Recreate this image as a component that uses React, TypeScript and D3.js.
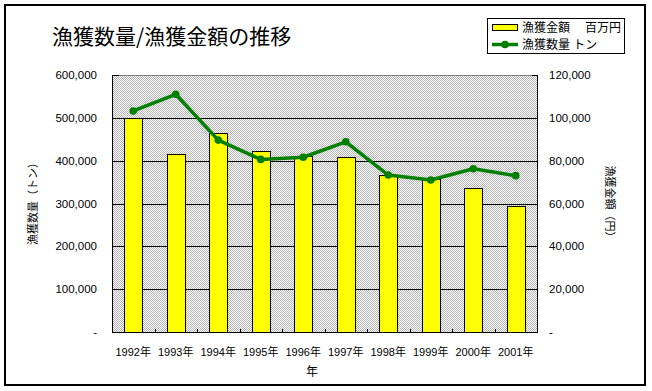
import * as d3 from 'd3';

const years = ['1992年', '1993年', '1994年', '1995年', '1996年', '1997年', '1998年', '1999年', '2000年', '2001年'];
// 漁獲金額 (百万円) — bars, right axis
const kingaku = [99800, 83000, 92800, 84400, 82400, 81600, 73200, 71300, 67100, 58700];
// 漁獲数量 (トン) — line, left axis
const suryo = [516000, 555000, 448000, 403000, 408000, 444000, 366500, 355000, 381000, 365000];
const leftTicks = [0, 100000, 200000, 300000, 400000, 500000, 600000];
const rightTicks = [0, 20000, 40000, 60000, 80000, 100000, 120000];

const W = 652;
const H = 391;
const plot = { left: 112, right: 537, top: 75, bottom: 332 };
const FONT = '"Liberation Sans", "Noto Sans CJK JP", sans-serif';
const GREEN = '#008000';

const fmt = (v: number) => (v === 0 ? '-' : d3.format(',')(v));

export default function App() {
  const x = d3.scaleBand<string>().domain(years).range([plot.left, plot.right]).padding(0);
  const yL = d3.scaleLinear().domain([0, 600000]).range([plot.bottom, plot.top]);
  const yR = d3.scaleLinear().domain([0, 120000]).range([plot.bottom, plot.top]);
  const bw = x.bandwidth() * 0.42;
  const cx = (d: string) => (x(d) ?? 0) + x.bandwidth() / 2;

  const line = d3
    .line<number>()
    .x((_, i) => cx(years[i]))
    .y((d) => yL(d));

  return (
    <svg width={W} height={H} style={{ position: 'absolute', left: 0, top: 0, background: '#fff' }} fontFamily={FONT}>
      <defs>
        <pattern id="hatch" width={2} height={2} patternUnits="userSpaceOnUse">
          <rect width={2} height={2} fill="#fff" />
          <rect width={1} height={1} fill="#b4b4b4" />
          <rect x={1} y={1} width={1} height={1} fill="#b4b4b4" />
        </pattern>
      </defs>

      <rect x={5} y={5} width={640} height={380} fill="#fff" stroke="#000" strokeWidth={2} />

      <text x={52} y={44} fontSize={21} fontFamily='"Noto Sans CJK JP", sans-serif'>
        漁獲数量/漁獲金額の推移
      </text>

      {/* plot area */}
      <rect x={plot.left} y={plot.top} width={plot.right - plot.left} height={plot.bottom - plot.top} fill="url(#hatch)" />
      <line x1={plot.left} x2={plot.right} y1={plot.top + 0.5} y2={plot.top + 0.5} stroke="#808080" />
      {leftTicks.slice(1, -1).map((t) => (
        <line key={t} x1={plot.left} x2={plot.right} y1={Math.round(yL(t)) + 0.5} y2={Math.round(yL(t)) + 0.5} stroke="#000" />
      ))}
      <line x1={plot.left} x2={plot.left + 7} y1={plot.top + 0.5} y2={plot.top + 0.5} stroke="#000" />
      <line x1={plot.right - 5} x2={plot.right} y1={plot.top + 0.5} y2={plot.top + 0.5} stroke="#000" />

      {years.map((d, i) => (
        <rect
          key={d}
          x={Math.round(cx(d) - bw / 2) + 0.5}
          y={Math.round(yR(kingaku[i])) + 0.5}
          width={Math.round(bw)}
          height={plot.bottom - Math.round(yR(kingaku[i]))}
          fill="#ffff00"
          stroke="#000"
          strokeWidth={1}
        />
      ))}

      <path d={line(suryo) ?? ''} fill="none" stroke={GREEN} strokeWidth={3.5} strokeLinejoin="round" />
      {suryo.map((v, i) => (
        <circle key={i} cx={cx(years[i])} cy={yL(v)} r={3.8} fill={GREEN} />
      ))}

      {/* axes */}
      <line x1={plot.left + 0.5} x2={plot.left + 0.5} y1={plot.top} y2={plot.bottom} stroke="#000" />
      <line x1={plot.right + 0.5} x2={plot.right + 0.5} y1={plot.top} y2={plot.bottom + 1} stroke="#000" />
      <line x1={plot.left} x2={plot.right + 1} y1={plot.bottom + 0.5} y2={plot.bottom + 0.5} stroke="#000" />
      {years.slice(1).map((d) => (
        <line key={d} x1={Math.round(x(d) ?? 0) + 0.5} x2={Math.round(x(d) ?? 0) + 0.5} y1={plot.bottom - 3} y2={plot.bottom} stroke="#000" />
      ))}

      {leftTicks.map((t) => (
        <text key={t} x={97} y={yL(t)} dy="0.35em" fontSize={11.5} textAnchor="end">
          {fmt(t)}
        </text>
      ))}
      {rightTicks.map((t) => (
        <text key={t} x={549} y={yR(t)} dy="0.35em" fontSize={11.5}>
          {fmt(t)}
        </text>
      ))}
      {years.map((d) => (
        <text key={d} x={cx(d)} y={352} dy="0.35em" fontSize={11} textAnchor="middle">
          {d}
        </text>
      ))}

      <text x={312} y={372} dy="0.35em" fontSize={12} textAnchor="middle">
        年
      </text>
      <text transform="translate(33,201) rotate(-90)" dy="0.35em" fontSize={11} textAnchor="middle">
        漁獲数量（トン）
      </text>
      <text transform="translate(610,204) rotate(90)" dy="0.35em" fontSize={11} textAnchor="middle">
        漁獲金額（円）
      </text>

      {/* legend */}
      <rect x={487.5} y={18.5} width={137} height={35} fill="#fff" stroke="#000" />
      <rect x={492.5} y={24.5} width={25} height={6} fill="#ffff00" stroke="#000" />
      <text x={522} y={27.5} dy="0.35em" fontSize={12}>
        漁獲金額
      </text>
      <text x={621} y={27.5} dy="0.35em" fontSize={12} textAnchor="end">
        百万円
      </text>
      <line x1={492} x2={518} y1={44.5} y2={44.5} stroke={GREEN} strokeWidth={3.5} />
      <circle cx={505} cy={44.5} r={3.8} fill={GREEN} />
      <text x={522} y={44.5} dy="0.35em" fontSize={12}>
        漁獲数量 トン
      </text>
    </svg>
  );
}
